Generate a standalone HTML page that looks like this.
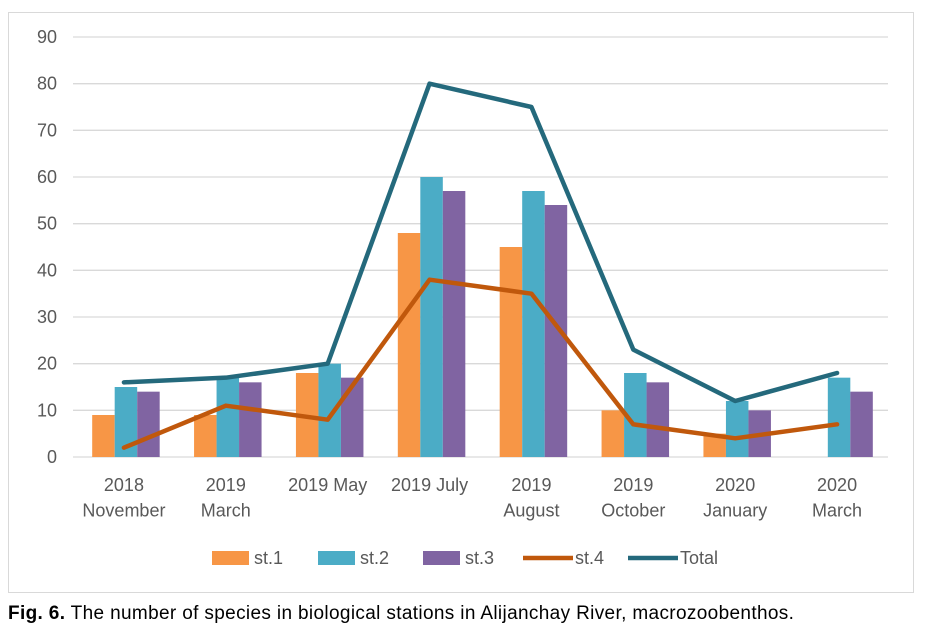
<!DOCTYPE html>
<html><head><meta charset="utf-8"><style>
body{margin:0;background:#fff;font-family:"Liberation Sans",sans-serif;}
#c{position:absolute;left:0;top:0;}
.cap{position:absolute;left:8px;top:603px;font-size:19px;letter-spacing:0.35px;color:#000;white-space:nowrap;}
</style></head><body>
<svg id="c" width="927" height="641"></svg>
<div class="cap"><b>Fig. 6.</b> The number of species in biological stations in Alijanchay River, macrozoobenthos.</div>
<script>
const categories=[["2018","November"],["2019","March"],["2019 May"],["2019 July"],["2019","August"],["2019","October"],["2020","January"],["2020","March"]];
const st1=[9,9,18,48,45,10,5,0];
const st2=[15,17,20,60,57,18,12,17];
const st3=[14,16,17,57,54,16,10,14];
const st4=[2,11,8,38,35,7,4,7];
const total=[16,17,20,80,75,23,12,18];
const yTicks=[0,10,20,30,40,50,60,70,80,90];
const NS="http://www.w3.org/2000/svg";
const svg=document.getElementById('c');
const x0=73,x1=888,y0=457,y1=37,ymax=90;
const bw=(x1-x0)/categories.length;
const Y=v=>y0-(v/ymax)*(y0-y1);
const Xc=i=>x0+bw*(i+0.5);
function mk(t,a){const e=document.createElementNS(NS,t);for(const k in a)e.setAttribute(k,a[k]);svg.appendChild(e);return e;}
let fr=mk('rect',{x:8.5,y:12.5,width:905,height:580,fill:'none',stroke:'#d9d9d9'});


yTicks.forEach(v=>{
 const l=mk('line',{x1:x0,x2:x1,y1:Y(v),y2:Y(v),stroke:'#d9d9d9','stroke-width':1.3});
 
 
 const t=mk('text',{x:57,y:Y(v)+6,'text-anchor':'end','font-size':18,fill:'#595959'});
 t.textContent=v;
 
 
});
const series=[[st1,'#f79646','st1'],[st2,'#4bacc6','st2'],[st3,'#8064a2','st3']];
const barW=22.5;
series.forEach((s,j)=>{
 s[0].forEach((v,i)=>{
  if(v<=0)return;
  const r=mk('rect',{x:Xc(i)-barW*1.5+2+j*barW,y:Y(v),width:barW,height:y0-Y(v),fill:s[1]});
  
  
 });
});
function line(d,col,name){
 const p=mk('polyline',{points:d.map((v,i)=>Xc(i)+','+Y(v)).join(' '),fill:'none',stroke:col,'stroke-width':4.5,'stroke-linejoin':'round','stroke-linecap':'round'});
 
 
}
line(st4,'#c0580c','line-st4');
line(total,'#24697c','line-total');
categories.forEach((c,i)=>{
 c.forEach((s,k)=>{
  const t=mk('text',{x:Xc(i),y:491+k*25.5,'text-anchor':'middle','font-size':18,fill:'#595959'});
  t.textContent=s;
  
  
 });
});
const leg=[['rect','#f79646','st.1',212],['rect','#4bacc6','st.2',318],['rect','#8064a2','st.3',423],['line','#c0580c','st.4',523],['line','#24697c','Total',628]];
leg.forEach(l=>{
 if(l[0]=='rect'){const r=mk('rect',{x:l[3],y:551,width:37,height:14,fill:l[1]});}
 else{const r=mk('line',{x1:l[3],x2:l[3]+50,y1:558,y2:558,stroke:l[1],'stroke-width':4.5});}
 const t=mk('text',{x:l[3]+(l[0]=='rect'?42:52),y:564,'font-size':18,fill:'#595959'});
 t.textContent=l[2];
 
 
});
</script>
</body></html>
